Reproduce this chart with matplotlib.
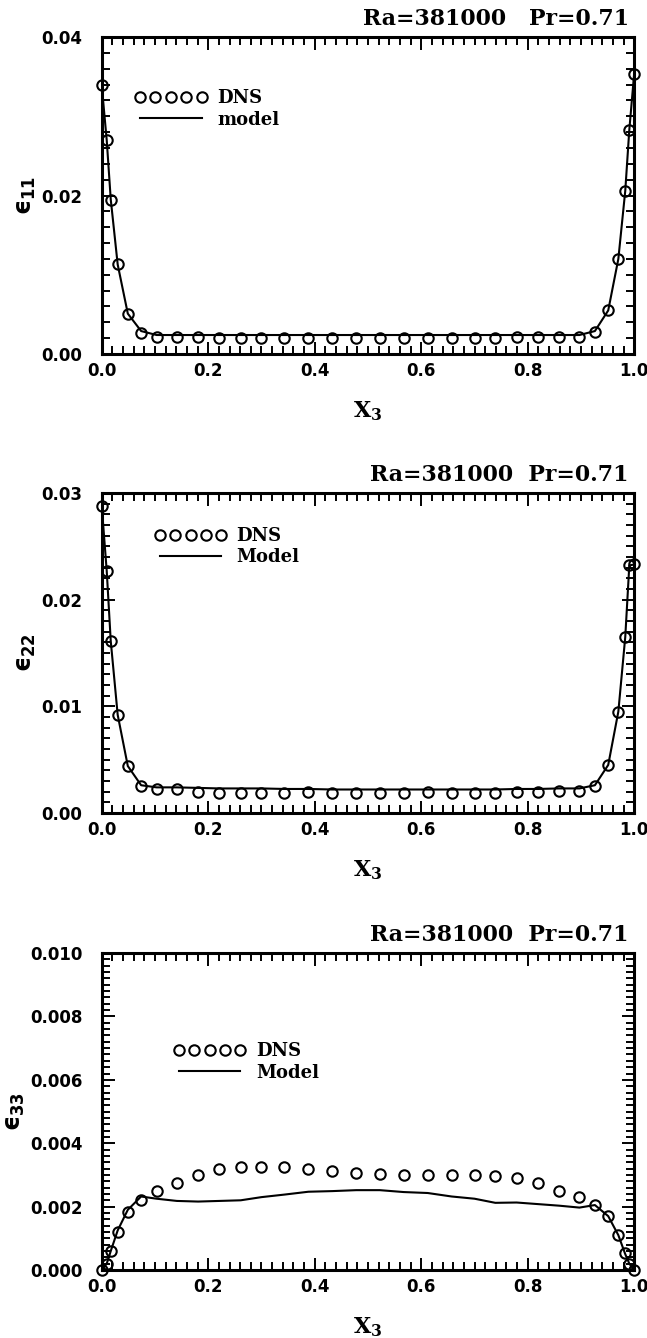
import numpy as np
import matplotlib
matplotlib.use('Agg')
import matplotlib.pyplot as plt
from matplotlib.ticker import MultipleLocator, FormatStrFormatter
from matplotlib.lines import Line2D

plt.rcParams['font.family'] = ['DejaVu Sans']
plt.rcParams['font.weight'] = 'bold'
plt.rcParams['font.size'] = 12

# wall-normal grid of the DNS samples
x3 = [0.0, 0.0094, 0.017, 0.030, 0.049, 0.074, 0.103, 0.141, 0.181, 0.221, 0.261,
      0.300, 0.343, 0.388, 0.433, 0.478, 0.522, 0.567, 0.612, 0.657, 0.700, 0.739,
      0.779, 0.819, 0.859, 0.897, 0.926, 0.951, 0.970, 0.983, 0.9906, 1.0]

e11_dns = [0.0339, 0.0270, 0.0195, 0.0113, 0.0051, 0.0027, 0.0021, 0.0021, 0.0021, 0.0020,
           0.0020, 0.0020, 0.0020, 0.0020, 0.0020, 0.0020, 0.0020, 0.0020, 0.0020, 0.0020,
           0.0020, 0.0020, 0.0021, 0.0021, 0.0021, 0.0021, 0.0028, 0.0055, 0.0120, 0.0206,
           0.0283, 0.0354]
e11_model = [0.0339, 0.0270, 0.0195, 0.0113, 0.0051, 0.0029, 0.0024, 0.0024, 0.0024, 0.0024,
             0.0024, 0.0024, 0.0024, 0.0024, 0.0024, 0.0024, 0.0024, 0.0024, 0.0024, 0.0024,
             0.0024, 0.0024, 0.0024, 0.0024, 0.0024, 0.0024, 0.0029, 0.0055, 0.0120, 0.0206,
             0.0283, 0.0356]

e22_dns = [0.0288, 0.0227, 0.0161, 0.0092, 0.0044, 0.0025, 0.0022, 0.0022, 0.0020, 0.0019,
           0.0019, 0.0019, 0.0019, 0.0020, 0.0019, 0.0019, 0.0019, 0.0019, 0.0020, 0.0019,
           0.0019, 0.0019, 0.0020, 0.0020, 0.0021, 0.0021, 0.0025, 0.0045, 0.0095, 0.0165,
           0.0232, 0.0233]
e22_model = [0.0288, 0.0227, 0.0161, 0.0092, 0.0044, 0.0026, 0.0024, 0.0024, 0.00235, 0.0023,
             0.0023, 0.0023, 0.00225, 0.00225, 0.0022, 0.0022, 0.0022, 0.0022, 0.0022, 0.0022,
             0.0022, 0.0022, 0.00225, 0.00225, 0.0023, 0.0023, 0.0026, 0.0045, 0.0095, 0.0165,
             0.0232, 0.0233]

e33_dns = [0.0, 0.0002, 0.0006, 0.00121, 0.00184, 0.0022, 0.00248, 0.00274, 0.0030, 0.00318,
           0.00324, 0.00326, 0.00324, 0.00318, 0.00311, 0.00305, 0.00302, 0.0030, 0.0030, 0.0030,
           0.0030, 0.00297, 0.0029, 0.00274, 0.0025, 0.0023, 0.00205, 0.0017, 0.0011, 0.00055,
           0.0002, 0.0]
e33_model = [0.0, 0.0002, 0.0006, 0.00125, 0.0019, 0.00232, 0.00225, 0.00218, 0.00216, 0.00218,
             0.0022, 0.0023, 0.00238, 0.00247, 0.00249, 0.00252, 0.00252, 0.00246, 0.00243, 0.00232,
             0.00225, 0.00212, 0.00213, 0.00208, 0.00203, 0.00197, 0.00205, 0.0017, 0.0011, 0.0005,
             0.0002, 0.0]

SERIF = 'DejaVu Serif'


def draw_panel(ax, dns, model, ymax, ymajor, yminor, yfmt, ylabel, title, model_name, leg_pos):
    ax.plot(x3, model, color='black', lw=1.5, zorder=2)
    ax.plot(x3, dns, ls='none', marker='o', ms=7.5, mfc='none', mec='black', mew=1.5,
            zorder=3, clip_on=False)

    ax.set_xlim(0, 1)
    ax.set_ylim(0, ymax)
    ax.xaxis.set_major_locator(MultipleLocator(0.2))
    ax.xaxis.set_minor_locator(MultipleLocator(0.02))
    ax.yaxis.set_major_locator(MultipleLocator(ymajor))
    ax.yaxis.set_minor_locator(MultipleLocator(yminor))
    ax.xaxis.set_major_formatter(FormatStrFormatter('%.1f'))
    ax.yaxis.set_major_formatter(FormatStrFormatter(yfmt))
    ax.tick_params(which='both', direction='in', top=True, right=True, width=1.4, labelsize=12)
    ax.tick_params(which='major', length=9)
    ax.tick_params(which='minor', length=5.5)
    ax.tick_params(axis='x', pad=6)
    ax.tick_params(axis='y', pad=14)
    for s in ax.spines.values():
        s.set_linewidth(2.2)

    ax.set_xlabel(r'$\mathbf{X_3}$', math_fontfamily='dejavuserif', fontsize=16, labelpad=14)
    ax.set_ylabel(ylabel, math_fontfamily='dejavusans', fontsize=17, labelpad=2)
    ax.text(0.99, 1.038, title, transform=ax.transAxes, ha='right', va='baseline',
            family=SERIF, weight='bold', fontsize=15.8)

    handles = [Line2D([], [], ls='none', marker='o', ms=7.5, mfc='none', mec='black', mew=1.5),
               Line2D([], [], color='black', lw=1.5)]
    ax.legend(handles, ['DNS', model_name], loc='upper left', bbox_to_anchor=leg_pos,
              numpoints=5, handlelength=4.0, handletextpad=0.55, labelspacing=0.2,
              borderpad=0, borderaxespad=0, frameon=False,
              prop={'family': SERIF, 'weight': 'bold', 'size': 13})


fig = plt.figure(figsize=(6.47, 13.38), dpi=100)
ax1 = fig.add_axes([0.1572, 0.7354, 0.8232, 0.2369])
ax2 = fig.add_axes([0.1572, 0.3924, 0.8232, 0.2392])
ax3 = fig.add_axes([0.1572, 0.0508, 0.8232, 0.2369])

draw_panel(ax1, e11_dns, e11_model, 0.04, 0.02, 0.002, '%.2f', r'$\mathbf{ϵ_{11}}$',
           'Ra=381000   Pr=0.71', 'model', (0.062, 0.836))
draw_panel(ax2, e22_dns, e22_model, 0.03, 0.01, 0.001, '%.2f', r'$\mathbf{ϵ_{22}}$',
           'Ra=381000  Pr=0.71', 'Model', (0.099, 0.894))
draw_panel(ax3, e33_dns, e33_model, 0.010, 0.002, 0.0002, '%.3f', r'$\mathbf{ϵ_{33}}$',
           'Ra=381000  Pr=0.71', 'Model', (0.135, 0.719))

fig.savefig('out.png', dpi=100)
